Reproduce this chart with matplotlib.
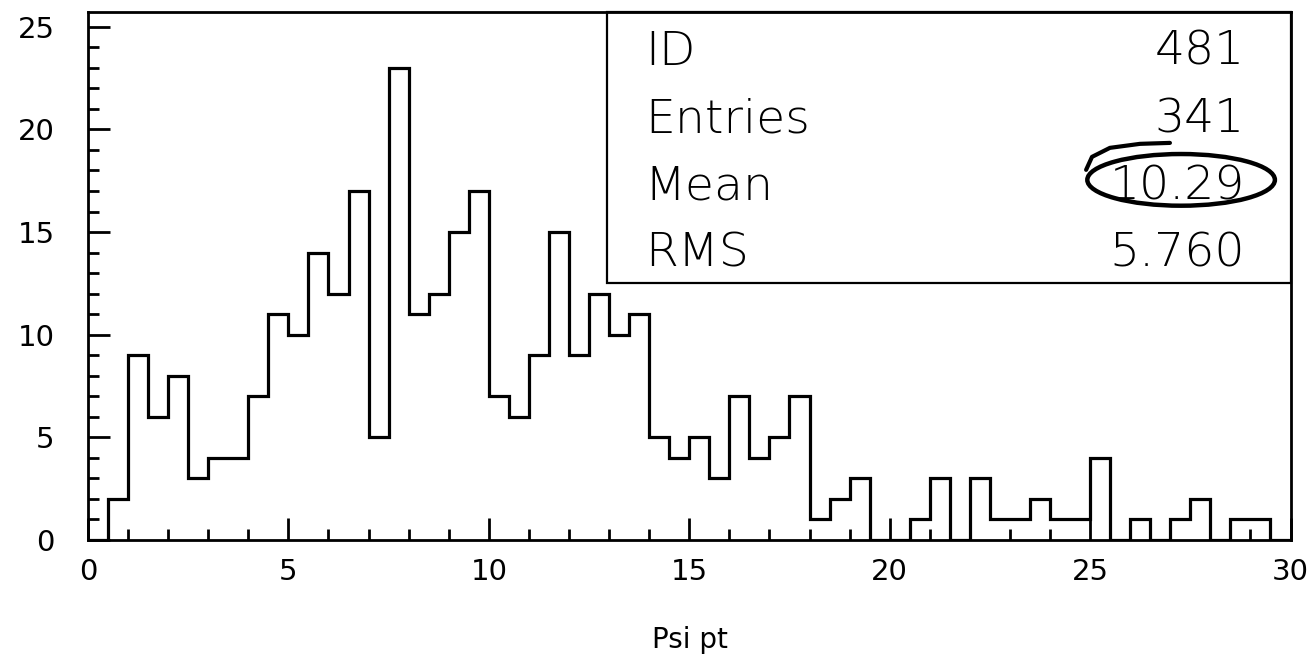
import numpy as np
import matplotlib
matplotlib.use('Agg')
import matplotlib.pyplot as plt
from matplotlib.patches import Rectangle, Ellipse

# histogram of Psi pt, 0.5 wide bins from 0 to 30
bin_lo = 0.0
bin_hi = 30.0
bin_width = 0.5
counts = [0, 2, 9, 6, 8, 3, 4, 4, 7, 11,
          10, 14, 12, 17, 5, 23, 11, 12, 15, 17,
          7, 6, 9, 15, 9, 12, 10, 11, 5, 4,
          5, 3, 7, 4, 5, 7, 1, 2, 3, 0,
          0, 1, 3, 0, 3, 1, 1, 2, 1, 1,
          4, 0, 1, 0, 1, 2, 0, 1, 1, 0]

stat_names = ['ID', 'Entries', 'Mean', 'RMS']
stat_values = ['481', '341', '10.29', '5.760']

x_label = 'Psi pt'
y_max = 25.7

plt.rcParams['font.family'] = ['DejaVu Sans']

fig = plt.figure(figsize=(13.15, 6.56), dpi=100)
ax = fig.add_axes([0.0669, 0.177, 0.9145, 0.804])

edges = np.arange(bin_lo, bin_hi + bin_width / 2, bin_width)
ax.stairs(counts, edges, color='black', linewidth=2.3)

ax.set_xlim(bin_lo, bin_hi)
ax.set_ylim(0, y_max)
ax.set_xticks(range(0, 31, 5))
ax.set_xticks(range(0, 31, 1), minor=True)
ax.set_yticks(range(0, 26, 5))
ax.set_yticks(range(0, 26, 1), minor=True)
ax.tick_params(which='major', direction='in', length=16, width=2, labelsize=21, colors='black')
ax.tick_params(which='minor', direction='in', length=8, width=2)
ax.tick_params(axis='y', which='major', pad=24)
ax.tick_params(axis='x', which='major', pad=13)
for sp in ax.spines.values():
    sp.set_linewidth(2)

fig.text(690 / 1315, 8 / 656, x_label, fontsize=20, ha='center', va='baseline')

# stats box top right
ax.add_patch(Rectangle((0.432, 0.4873), 0.568, 0.5127, transform=ax.transAxes,
                       fill=False, edgecolor='black', linewidth=1.6, clip_on=False))
row_y = [0.9007, 0.7717, 0.6447, 0.5176]
for name, val, yy in zip(stat_names, stat_values, row_y):
    ax.text(0.463, yy, name, transform=ax.transAxes, fontsize=34,
            fontweight='light', color='black', va='baseline', ha='left')
    ax.text(0.962, yy, val, transform=ax.transAxes, fontsize=34,
            fontweight='light', color='black', va='baseline', ha='right')

# hand drawn circle round the mean
ax.add_patch(Ellipse((0.909, 0.6826), 0.156, 0.098, transform=ax.transAxes,
                     fill=False, edgecolor='black', linewidth=3.2))
ax.plot([0.830, 0.8349, 0.8498, 0.8748, 0.8997], [0.7016, 0.7262, 0.7433, 0.7509, 0.7527],
        transform=ax.transAxes, color='black', linewidth=3, solid_capstyle='round')

fig.savefig('out.png', dpi=100)
